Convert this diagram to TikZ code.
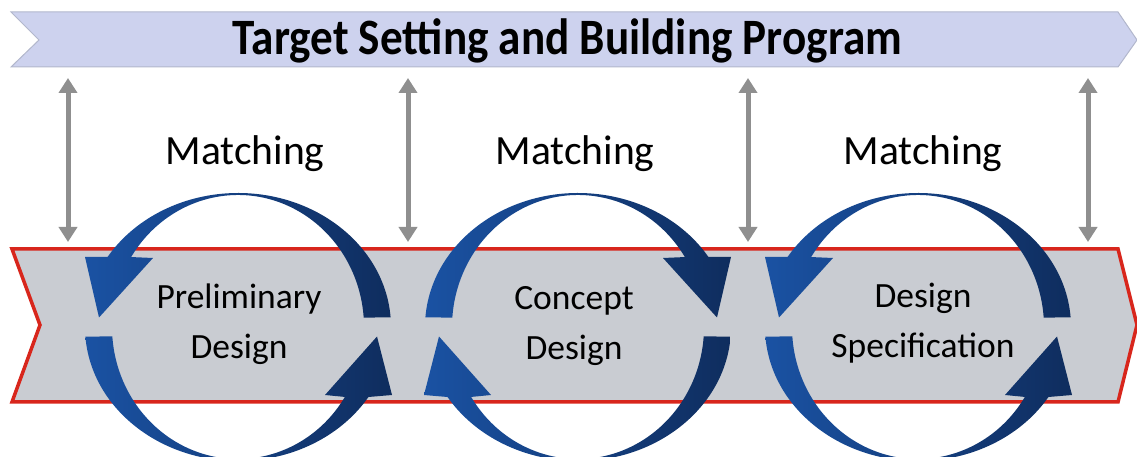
\documentclass[tikz,border=0pt]{standalone}
\usepackage{fontspec}
\setmainfont{Carlito}
\usetikzlibrary{arrows.meta}
\definecolor{bannerfill}{HTML}{CDD2EE}
\definecolor{bannerline}{HTML}{B2B7CC}
\definecolor{bandfill}{HTML}{C9CCD2}
\definecolor{bandline}{HTML}{D8261C}
\definecolor{arrowgray}{HTML}{8F8F8F}
\definecolor{ringL}{HTML}{1A52A3}
\definecolor{ringR}{HTML}{0F2D5E}
\tikzset{
  ringseg/.style={left color=ringL, right color=ringR, draw=none},
  garrow/.style={draw=arrowgray, line width=5pt,
    {Triangle[width=18pt,length=15pt]}-{Triangle[width=18pt,length=15pt]}},
  matchtext/.style={anchor=base, inner sep=0pt, font=\fontsize{41.6}{45}\selectfont},
  boxtext/.style={align=center, inner sep=0pt, font=\fontsize{35.5}{50}\selectfont},
}
\newcommand\ringccw[1]{%
  \begin{scope}[shift={(#1,130)}]
    \shade[ringseg] (4.1:153 and 134) arc[start angle=4.1, end angle=148.5, x radius=153, y radius=134]
      -- (-153,70) -- (-139,9.5) -- (-85,69) -- (148:126 and 132)
      arc[start angle=148, end angle=4.1, x radius=126, y radius=132] -- cycle;
    \shade[ringseg] (184.1:153 and 134) arc[start angle=184.1, end angle=328.5, x radius=153, y radius=134]
      -- (154,-68) -- (139,-9.5) -- (87,-68) -- (328:126 and 132)
      arc[start angle=328, end angle=184.1, x radius=126, y radius=132] -- cycle;
  \end{scope}}
\newcommand\ringcw[1]{%
  \begin{scope}[shift={(#1,130)}]
    \shade[ringseg] (175.9:153 and 134) arc[start angle=175.9, end angle=31.5, x radius=153, y radius=134]
      -- (153,70) -- (139,9.5) -- (85,69) -- (32:126 and 132)
      arc[start angle=32, end angle=175.9, x radius=126, y radius=132] -- cycle;
    \shade[ringseg] (355.9:153 and 134) arc[start angle=355.9, end angle=211.5, x radius=153, y radius=134]
      -- (-154,-68) -- (-139,-9.5) -- (-87,-68) -- (212:126 and 132)
      arc[start angle=212, end angle=355.9, x radius=126, y radius=132] -- cycle;
  \end{scope}}
\begin{document}
\begin{tikzpicture}[x=1pt,y=1pt]
\useasboundingbox (0,0) rectangle (1137,457);
% top banner
\draw[fill=bannerfill, draw=bannerline, line width=1pt]
  (11,445) -- (1118,445) -- (1137,417) -- (1118,390) -- (11,390) -- (39,417) -- cycle;
\node[anchor=base, inner sep=0pt] (title) at (567.5,402)
  {\resizebox{669pt}{\height}{\fontsize{51}{55}\selectfont\bfseries Target Setting and Building Program}};
% main band
\draw[fill=bandfill, draw=bandline, line width=3.5pt, line join=miter]
  (12,208) -- (40,132) -- (12,55) -- (1118,55) -- (1137,132) -- (1118,208) -- cycle;
% gray double arrows
\foreach \i/\x in {1/68,2/408,3/748,4/1088}{
  \coordinate (u\i) at (\x,379);
  \coordinate (d\i) at (\x,215);
}
\foreach \i in {1,2,3,4}{\draw[garrow] (u\i) -- (d\i);}
% Matching labels
\node[matchtext] (m1) at (245,292) {Matching};
\node[matchtext] (m2) at (575,292) {Matching};
\node[matchtext] (m3) at (923,292) {Matching};
% rings
\ringccw{238}
\ringcw{578}
\ringccw{918}
% stage texts
\node[boxtext] (t1) at (239,133) {Preliminary\\Design};
\node[boxtext] (t2) at (574,131) {Concept\\Design};
\node[boxtext] (t3) at (923,134) {Design\\Specification};
\end{tikzpicture}
\end{document}
